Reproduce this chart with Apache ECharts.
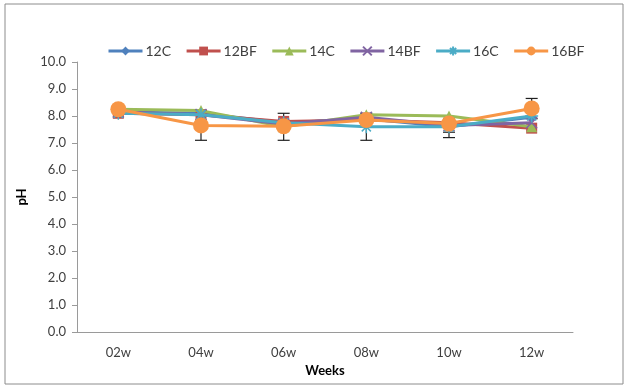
<!DOCTYPE html>
<html><head><meta charset="utf-8">
<script src="https://cdn.jsdelivr.net/npm/echarts@6/dist/echarts.min.js"></script>
<style>html,body{margin:0;padding:0;background:#fff}#c{width:629px;height:389px}</style>
</head><body><div id="c"></div>
<script>
const weeks = ['02w','04w','06w','08w','10w','12w'];
const s12C  = [8.15, 8.10, 7.75, 7.90, 7.60, 7.95];
const s12BF = [8.10, 8.05, 7.80, 7.85, 7.75, 7.55];
const s14C  = [8.25, 8.20, 7.60, 8.05, 8.00, 7.60];
const s14BF = [8.15, 8.05, 7.70, 7.95, 7.65, 7.75];
const s16C  = [8.10, 8.05, 7.75, 7.60, 7.60, 8.00];
const s16BF = [8.25, 7.65, 7.62, 7.85, 7.72, 8.28];
// error bars: [category index, low, high]
const errBars = [[1, 7.10, 8.20],[2, 7.10, 8.10],[3, 7.10, 8.10],[4, 7.20, 7.90],[4, 7.40, 7.85],[4, 7.55, 7.80],[5, 7.90, 8.65]];

const names = ['12C','12BF','14C','14BF','16C','16BF'];
const datas = [s12C,s12BF,s14C,s14BF,s16C,s16BF];
const colors = ['#4F81BD','#C0504D','#9BBB59','#8064A2','#4BACC6','#F79646'];
const symbols = ['diamond','rect','triangle','path://M0,0L10,10M10,0L0,10','path://M5,0L5,10M0,5L10,5M1.5,1.5L8.5,8.5M8.5,1.5L1.5,8.5','circle'];
const sizes = [11,11,11,11,13,16];

const chart = echarts.init(document.getElementById('c'));
const font = 'Lato, "Liberation Sans", sans-serif';
const series = [{
  type:'custom', name:'err', silent:true, z:1,
  data: errBars,
  renderItem:function(params, api){
    const x = api.coord([api.value(0), api.value(1)]);
    const y2 = api.coord([api.value(0), api.value(2)]);
    const w = 6;
    const st = {stroke:'#202020', lineWidth:1.2};
    return {type:'group', children:[
      {type:'line', shape:{x1:x[0],y1:x[1],x2:x[0],y2:y2[1]}, style:st},
      {type:'line', shape:{x1:x[0]-w,y1:x[1],x2:x[0]+w,y2:x[1]}, style:st},
      {type:'line', shape:{x1:x[0]-w,y1:y2[1],x2:x[0]+w,y2:y2[1]}, style:st}
    ]};
  }
}];
names.forEach((n,i)=>{
  const isPath = symbols[i].startsWith('path');
  series.push({
    type:'line', name:n, data:datas[i], z:2+i,
    symbol:symbols[i], symbolSize:sizes[i], showSymbol:true,
    lineStyle:{color:colors[i], width:3},
    itemStyle: isPath ? {color:colors[i], borderColor:colors[i], borderWidth:1.5} : {color:colors[i], borderWidth:0},
    emphasis:{disabled:true}
  });
});

chart.setOption({
  animation:false,
  backgroundColor:'#fff',
  graphic:[{type:'rect', shape:{x:5,y:4,width:618,height:380}, style:{fill:'none', stroke:'#8c8c8c', lineWidth:1}, silent:true}],
  legend:{
    data:names, top:39, left:102, itemWidth:34, itemHeight:11, itemGap:14,
    lineStyle:{width:3},
    textStyle:{fontFamily:font, fontSize:14, color:'#404040', padding:[0,0,0,-2]}
  },
  grid:{left:77, right:56, top:62, bottom:57},
  xAxis:{
    type:'category', data:weeks, boundaryGap:true,
    name:'Weeks', nameLocation:'middle', nameGap:28,
    nameTextStyle:{fontFamily:font, fontSize:13, fontWeight:'bold', color:'#000'},
    axisLine:{lineStyle:{color:'#9a9a9a'}}, axisTick:{show:false},
    axisLabel:{fontFamily:font, fontSize:13, color:'#404040', margin:14}
  },
  yAxis:{
    type:'value', min:0, max:10, interval:1,
    name:'pH', nameLocation:'middle', nameGap:49, nameRotate:90,
    nameTextStyle:{fontFamily:font, fontSize:13, fontWeight:'bold', color:'#000'},
    axisLine:{show:true, lineStyle:{color:'#9a9a9a'}},
    axisTick:{show:true, length:5, lineStyle:{color:'#9a9a9a'}},
    splitLine:{show:false},
    axisLabel:{fontFamily:font, fontSize:13, color:'#404040', margin:11, formatter:v=>v.toFixed(1)}
  },
  series:series
});
</script></body></html>
